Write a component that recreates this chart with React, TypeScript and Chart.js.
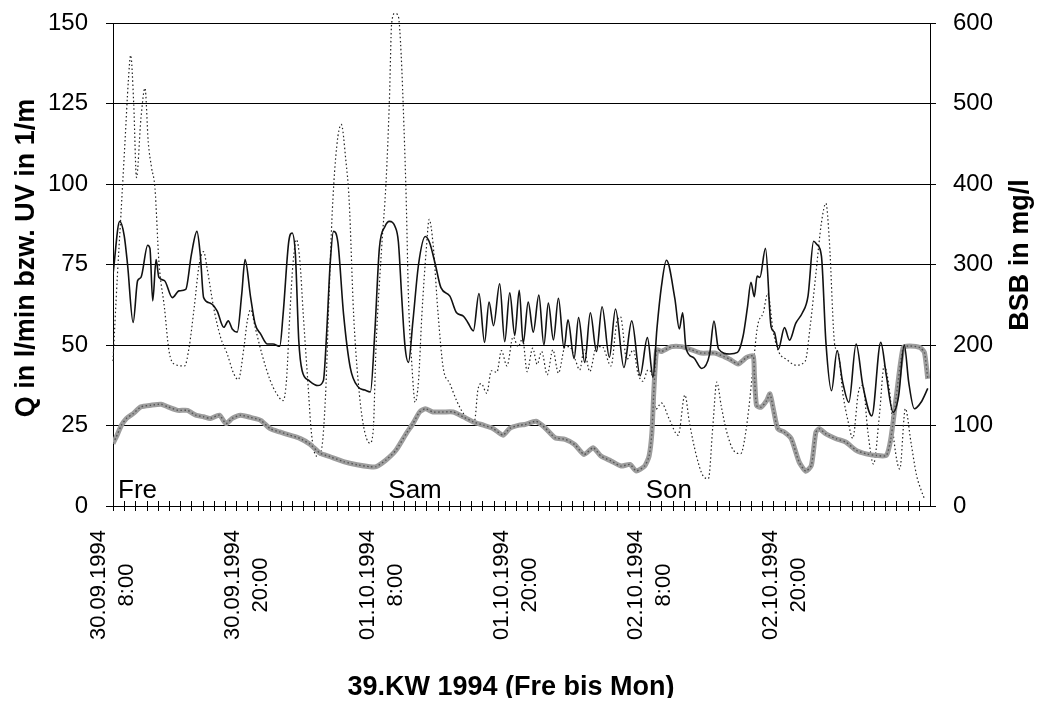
import React, { useEffect, useRef } from 'react';
import { Chart, registerables } from 'chart.js';

Chart.register(...registerables);

// Hours after 30.09.1994 8:00
const qHours = [0, 0.6, 1.0, 1.3, 1.8, 2.2, 2.5, 3.1, 3.3, 3.55, 3.85, 4.1, 4.6, 5.3, 5.9, 6.5, 7.0, 7.5, 7.8, 8.1, 8.7, 9.3, 9.9, 10.3, 10.65, 11.1, 11.5, 11.8, 12.3, 12.7, 13.2, 13.8, 14.3, 14.9, 15.2, 15.7, 16.0, 16.3, 16.6, 16.9, 17.5, 18.3, 18.8, 19.1, 19.4, 19.7, 20.1, 20.6, 21.2, 21.9, 22.5, 23.0, 23.4, 23.8, 24.3, 24.7, 25.2, 25.5, 25.8, 26.1, 26.4, 26.8, 27.3, 27.9, 28.3, 28.8, 29.3, 30.1, 30.7, 31.3, 31.7, 32.2, 32.7, 33.2, 33.6, 34.0, 34.55, 35.0, 35.45, 35.9, 36.3, 36.65, 37.1, 37.55, 38.05, 38.5, 38.9, 39.35, 39.8, 40.3, 40.65, 41.2, 41.6, 42.15, 42.65, 43.2, 43.7, 44.35, 44.9, 45.65, 46.35, 47.1, 47.75, 48.25, 48.6, 49.0, 49.45, 50.2, 50.6, 50.9, 51.2, 51.9, 52.6, 53.3, 53.7, 54.1, 55.1, 55.8, 56.3, 56.7, 57.0, 57.3, 57.55, 57.8, 58.3, 58.8, 59.1, 59.45, 60.0, 60.45, 61.0, 61.6, 62.1, 62.6, 62.9, 63.3, 63.7, 64.2, 64.7, 65.2, 65.75, 66.4, 67.0, 67.8, 68.6, 69.1, 69.7, 70.2, 70.7, 71.1, 71.6, 72.2, 72.8];
const qValues = [72, 88.4, 84, 75, 57, 70, 71, 81, 80, 63.7, 76.5, 71, 70, 64.7, 66.8, 67.3, 78, 85.3, 78, 64.7, 63, 60.6, 55.5, 57.5, 55, 54, 65.7, 76.5, 64.7, 56.5, 53.4, 50.3, 50.3, 49.6, 59.6, 82, 84.8, 78, 51.3, 42, 39, 37.4, 39, 54.4, 75, 85.3, 81.7, 59.6, 43, 37, 36, 35.4, 54.4, 80, 86.8, 88.4, 86.8, 82, 64.7, 49.3, 44.6, 57.5, 75, 83.7, 81.7, 75, 67.8, 65.2, 60, 59, 57, 54.4, 66, 50.8, 63.3, 56, 69, 51, 66.2, 53, 67, 50.6, 63.3, 54, 65.5, 50, 63, 51.6, 64.5, 49, 57.8, 45.8, 58.5, 44.6, 60, 48, 61.9, 46.2, 61.2, 43, 57.5, 40.5, 52.3, 40, 55, 68.1, 76.3, 64.5, 55, 60, 49, 46, 42.7, 47, 57.4, 48.8, 47.2, 47.7, 52.8, 62, 69.5, 65, 71.4, 71, 80, 55.7, 53.9, 48.7, 55.4, 51.5, 56.7, 60, 65.2, 82.2, 81.2, 77.6, 50.8, 35.8, 48.2, 38.4, 32.2, 50.3, 37.4, 28, 50.8, 40.5, 29.1, 34.3, 50, 38.4, 30.2, 32.2, 36.5];

const uvHours = [0, 0.3, 0.74, 1.2, 1.8, 2.5, 3.4, 4.3, 4.9, 5.8, 6.65, 7.4, 8.1, 8.7, 9.5, 10.1, 10.65, 11.4, 12.3, 13.2, 14.05, 14.9, 15.8, 16.7, 17.6, 18.5, 19.4, 20.6, 21.8, 22.95, 23.5, 24.4, 25.3, 26.2, 26.8, 27.4, 27.9, 28.6, 29.5, 30.4, 31.3, 32.2, 33.1, 33.95, 34.85, 35.45, 36.3, 36.8, 37.8, 38.6, 39.5, 40.4, 41.25, 42.1, 42.9, 43.6, 44.5, 45.4, 46.2, 46.75, 47.5, 47.9, 48.15, 48.3, 48.45, 48.6, 49.0, 49.9, 50.8, 51.7, 52.55, 53.75, 54.6, 55.1, 55.85, 56.6, 57.2, 57.3, 57.5, 57.9, 58.4, 58.7, 59.0, 59.4, 60.0, 60.6, 61.3, 61.9, 62.4, 62.8, 63.1, 63.7, 64.6, 65.5, 66.4, 67.3, 68.2, 69.1, 69.5, 70.0, 70.6, 71.2, 72.1, 72.5, 72.8];
const uvValues = [19.4, 21.5, 25, 27.2, 28.7, 30.8, 31.3, 31.6, 30.8, 29.7, 29.7, 28.2, 27.7, 27.2, 28.2, 25.6, 27.2, 28.2, 27.5, 26.6, 24, 23, 22, 21, 19.2, 16.4, 15.3, 13.8, 12.8, 12.2, 12.2, 14.3, 17.4, 22.5, 25.6, 29.2, 30.2, 29.2, 29.2, 29.2, 27.7, 26.1, 25.1, 24.1, 22, 24.1, 25.1, 25.3, 26.3, 24.3, 21.2, 20.7, 19.1, 16, 18.1, 15.5, 14, 12.4, 12.9, 10.9, 12.4, 15.5, 22.7, 34, 43.4, 48.5, 48, 49.5, 49.5, 48.5, 47.5, 47.5, 46.4, 45.6, 44.1, 46.1, 46.6, 41.5, 31.2, 30.7, 32.7, 34.8, 30.2, 24, 22.9, 20.9, 13.7, 10.8, 12.6, 22.9, 24, 22.4, 20.9, 19.8, 17.3, 16.2, 15.7, 15.7, 20.9, 34.3, 49.2, 49.7, 49.2, 47.7, 39.5];

const bsbHours = [0, 0.4, 0.7, 1.07, 1.37, 1.58, 1.85, 2.1, 2.5, 2.86, 3.15, 3.45, 3.75, 4.1, 4.6, 5.0, 5.5, 6.4, 6.8, 7.25, 7.7, 8.1, 8.4, 9.0, 9.6, 10.2, 10.8, 11.2, 11.7, 12.0, 12.3, 12.7, 13.3, 14.05, 14.6, 15.2, 15.5, 15.8, 16.1, 16.4, 16.7, 17.0, 17.4, 17.75, 18.2, 18.6, 19.0, 19.3, 19.6, 20.0, 20.4, 20.8, 21.1, 21.5, 21.9, 22.35, 22.95, 23.25, 23.5, 24.0, 24.4, 24.7, 24.9, 25.2, 25.5, 25.75, 26.0, 26.2, 26.4, 26.7, 27.0, 27.3, 27.6, 28.0, 28.25, 28.6, 29.05, 29.5, 30.1, 30.7, 31.3, 31.9, 32.3, 32.6, 32.9, 33.4, 33.8, 34.3, 34.7, 35.2, 35.75, 36.2, 36.6, 37.0, 37.5, 37.9, 38.3, 38.8, 39.3, 39.8, 40.4, 40.8, 41.3, 41.7, 42.1, 42.6, 43.2, 43.7, 44.5, 45.0, 45.35, 45.9, 46.5, 46.9, 47.35, 47.8, 48.2, 48.5, 49.0, 49.7, 50.5, 51.1, 51.5, 52.1, 52.7, 53.2, 53.6, 53.95, 54.35, 54.8, 55.45, 56.1, 56.4, 56.8, 57.2, 57.6, 58.1, 58.5, 59.0, 59.5, 60.2, 61.0, 61.85, 62.3, 62.8, 63.3, 63.7, 64.0, 64.5, 64.8, 65.2, 65.7, 66.1, 66.6, 67.0, 67.45, 67.95, 68.5, 68.9, 69.4, 69.8, 70.3, 70.8, 71.3, 71.8, 72.2, 72.5];
const bsbValues = [180, 288, 360, 452, 528, 560, 500, 408, 482, 519, 452, 420, 395, 304, 246, 193, 176, 174, 197, 246, 300, 316, 296, 246, 210, 189, 164, 157, 197, 230, 244, 222, 189, 156, 140, 131, 156, 238, 304, 331, 304, 238, 156, 88, 62, 68, 140, 260, 368, 448, 474, 430, 380, 238, 156, 102, 78, 94, 197, 320, 403, 505, 600, 612, 608, 560, 470, 380, 259, 176, 129, 156, 238, 320, 356, 325, 238, 172, 152, 131, 115, 106, 106, 144, 152, 140, 168, 166, 193, 174, 210, 198, 208, 167, 196, 176, 192, 163, 194, 165, 198, 198, 182, 169, 194, 167, 198, 198, 174, 227, 235, 182, 194, 165, 155, 169, 161, 120, 128, 108, 88, 138, 104, 64, 38, 34, 100, 154, 124, 94, 69, 65, 80, 120, 174, 224, 240, 264, 216, 191, 182, 175, 180, 224, 288, 352, 376, 331, 199, 191, 141, 104, 84, 141, 150, 92, 52, 116, 174, 141, 79, 46, 121, 79, 38, 20, 9];

const xLabelHours = [0, 12, 24, 36, 48, 60];
const xLabelDates = ['30.09.1994', '30.09.1994', '01.10.1994', '01.10.1994', '02.10.1994', '02.10.1994'];
const xLabelTimes = ['8:00', '20:00', '8:00', '20:00', '8:00', '20:00'];
const dayNames = ['Fre', 'Sam', 'Son'];
const dayHours = [0.45, 24.6, 47.6];

const leftTitle = 'Q in l/min bzw. UV in 1/m';
const rightTitle = 'BSB in mg/l';
const xTitle = '39.KW 1994 (Fre bis Mon)';

const FONT = '"Liberation Sans", Arial, sans-serif';

export default function App() {
  const ref = useRef<HTMLCanvasElement>(null);

  useEffect(() => {
    const canvas = ref.current;
    if (!canvas) return;
    const pts = (xs: number[], ys: number[]) => xs.map((x, i) => ({ x, y: ys[i] }));

    const overlay = {
      id: 'overlay',
      afterDraw(chart: any) {
        const { ctx, chartArea, scales } = chart;
        const xs = scales.x;
        ctx.save();
        ctx.strokeStyle = '#000';
        ctx.lineWidth = 1;
        // hourly tick marks crossing the x axis
        for (let h = 0; h <= 72; h++) {
          const px = Math.round(xs.getPixelForValue(h)) + 0.5;
          ctx.beginPath();
          ctx.moveTo(px, chartArea.bottom - 5);
          ctx.lineTo(px, chartArea.bottom + 5);
          ctx.stroke();
        }
        ctx.fillStyle = '#000';
        // x tick labels: two rotated, centred lines beside the tick
        ctx.font = `22px ${FONT}`;
        ctx.textAlign = 'center';
        ctx.textBaseline = 'middle';
        xLabelHours.forEach((h, i) => {
          const px = xs.getPixelForValue(h);
          [xLabelDates[i], xLabelTimes[i]].forEach((t, j) => {
            ctx.save();
            ctx.translate(px - 14 + j * 28, chartArea.bottom + 79);
            ctx.rotate(-Math.PI / 2);
            ctx.fillText(t, 0, 0);
            ctx.restore();
          });
        });
        // day names inside the plot
        ctx.font = `26px ${FONT}`;
        ctx.textAlign = 'left';
        ctx.textBaseline = 'alphabetic';
        dayNames.forEach((n, i) => {
          ctx.fillText(n, xs.getPixelForValue(dayHours[i]), chartArea.bottom - 8);
        });
        // axis titles
        ctx.font = `bold 27px ${FONT}`;
        ctx.textAlign = 'center';
        ctx.textBaseline = 'middle';
        ctx.save();
        ctx.translate(19, 250);
        ctx.rotate(-Math.PI / 2);
        ctx.fillText(leftTitle, 0, 0);
        ctx.restore();
        ctx.save();
        ctx.translate(1013, 247);
        ctx.rotate(-Math.PI / 2);
        ctx.fillText(rightTitle, 0, 0);
        ctx.restore();
        ctx.fillText(xTitle, 503, 680);
        ctx.restore();
      },
    };

    const fixV = (w: number) => (s: any) => {
      s.width = w;
      s.paddingTop = 0;
      s.paddingBottom = 0;
    };

    const chart = new Chart(canvas, {
      type: 'line',
      data: {
        datasets: [
          {
            label: 'Q',
            data: pts(qHours, qValues),
            yAxisID: 'y',
            borderColor: '#111',
            borderWidth: 1.6,
            pointRadius: 0,
            cubicInterpolationMode: 'monotone',
            order: 1,
          },
          {
            label: 'UV',
            data: pts(uvHours, uvValues),
            yAxisID: 'y',
            borderColor: '#555',
            borderWidth: 1.4,
            borderDash: [1.5, 2.5],
            pointRadius: 0,
            tension: 0.2,
            order: 2,
          },
          {
            label: 'UV',
            data: pts(uvHours, uvValues),
            yAxisID: 'y',
            borderColor: '#9d9d9d',
            borderWidth: 5,
            pointRadius: 0,
            tension: 0.2,
            order: 3,
          },
          {
            label: 'BSB',
            data: pts(bsbHours, bsbValues),
            yAxisID: 'y1',
            borderColor: '#222',
            borderWidth: 1.2,
            borderDash: [1.5, 2.5],
            pointRadius: 0,
            cubicInterpolationMode: 'monotone',
            clip: false,
            order: 4,
          },
        ] as any,
      },
      options: {
        responsive: false,
        animation: false,
        layout: { padding: { top: 15, left: 0, right: 0, bottom: 0 } },
        plugins: { legend: { display: false }, tooltip: { enabled: false } },
        scales: {
          x: {
            type: 'linear',
            min: 0,
            max: 73,
            afterFit: (s: any) => { s.height = 192; s.paddingLeft = 0; s.paddingRight = 0; },
            grid: { display: false },
            border: { display: true, color: '#000', width: 1 },
            ticks: { display: false },
          },
          y: {
            position: 'left',
            min: 0,
            max: 150,
            afterFit: fixV(105),
            grid: { color: '#000', lineWidth: 1, tickLength: 7 },
            border: { display: true, color: '#000', width: 1 },
            ticks: { stepSize: 25, padding: 18, color: '#000', font: { family: FONT, size: 24 } },
          },
          y1: {
            position: 'right',
            min: 0,
            max: 600,
            afterFit: fixV(104),
            grid: { drawOnChartArea: false, color: '#000', tickLength: 6 },
            border: { display: true, color: '#000', width: 1 },
            ticks: { stepSize: 100, padding: 17, color: '#000', font: { family: FONT, size: 24 } },
          },
        },
      } as any,
      plugins: [overlay],
    });
    return () => chart.destroy();
  }, []);

  return <canvas ref={ref} width={1026} height={690} style={{ display: 'block' }} />;
}
